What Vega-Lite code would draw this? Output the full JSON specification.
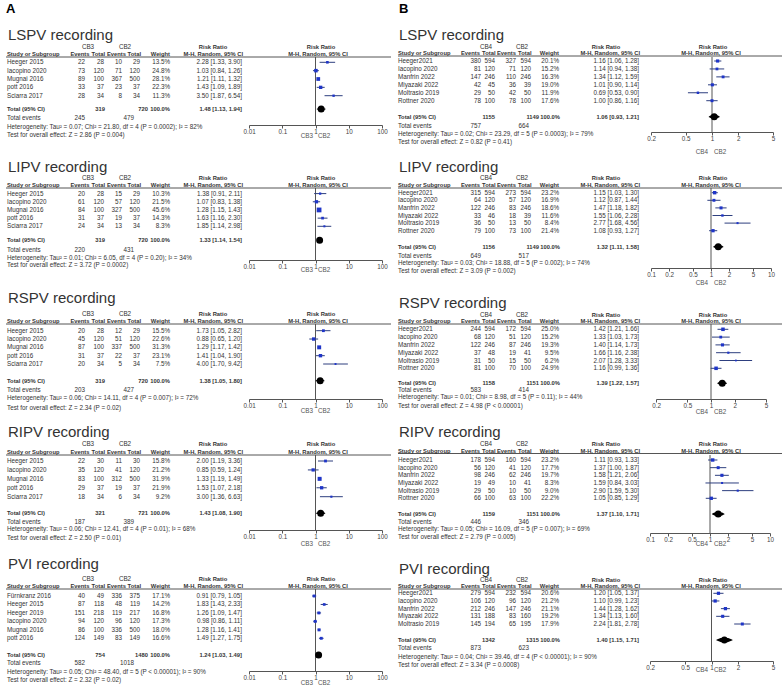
{
"$schema": "https://vega.github.io/schema/vega-lite/v6.json",
"background": "white",
"padding": {"left": 3, "top": 3, "right": 0, "bottom": 0},
"autosize": {"type": "pad"},
"columns": 2,
"spacing": {"row": 56, "column": 0},
"align": "each",
"bounds": "flush",
"resolve": {"scale": {"x": "independent", "y": "independent", "size": "independent"}, "axis": {"x": "independent"}},
"config": {
 "view": {"stroke": null},
 "text": {"font": "Liberation Sans", "fontSize": 6.3, "baseline": "middle", "color": "#333", "align": "left"},
 "axis": {"labelFont": "Liberation Sans", "labelFontSize": 6.3, "labelColor": "#444", "domainColor": "#555", "tickColor": "#555", "tickSize": 3, "labelPadding": 0, "grid": false, "labelFlush": false, "labelOverlap": false}
},
"datasets": {
 "A_LSPV": [
  {"study":"Heeger 2015","e1":22,"n1":28,"e2":10,"n2":29,"w":0.135,"rr":2.28,"lo":1.33,"hi":3.90,"ci":"2.28 [1.33, 3.90]"},
  {"study":"Iacopino 2020","e1":73,"n1":120,"e2":71,"n2":120,"w":0.248,"rr":1.03,"lo":0.84,"hi":1.26,"ci":"1.03 [0.84, 1.26]"},
  {"study":"Mugnai 2016","e1":89,"n1":100,"e2":367,"n2":500,"w":0.281,"rr":1.21,"lo":1.11,"hi":1.32,"ci":"1.21 [1.11, 1.32]"},
  {"study":"pott 2016","e1":33,"n1":37,"e2":23,"n2":37,"w":0.223,"rr":1.43,"lo":1.09,"hi":1.89,"ci":"1.43 [1.09, 1.89]"},
  {"study":"Sciarra 2017","e1":28,"n1":34,"e2":8,"n2":34,"w":0.113,"rr":3.50,"lo":1.87,"hi":6.54,"ci":"3.50 [1.87, 6.54]"}
 ],
 "A_LSPV_t": [{"est":1.48,"lo":1.13,"hi":1.94,"ci":"1.48 [1.13, 1.94]"}],
 "A_LIPV": [
  {"study":"Heeger 2015","e1":20,"n1":28,"e2":15,"n2":29,"w":0.103,"rr":1.38,"lo":0.91,"hi":2.11,"ci":"1.38 [0.91, 2.11]"},
  {"study":"Iacopino 2020","e1":61,"n1":120,"e2":57,"n2":120,"w":0.215,"rr":1.07,"lo":0.83,"hi":1.38,"ci":"1.07 [0.83, 1.38]"},
  {"study":"Mugnai 2016","e1":84,"n1":100,"e2":327,"n2":500,"w":0.456,"rr":1.28,"lo":1.15,"hi":1.43,"ci":"1.28 [1.15, 1.43]"},
  {"study":"pott 2016","e1":31,"n1":37,"e2":19,"n2":37,"w":0.143,"rr":1.63,"lo":1.16,"hi":2.30,"ci":"1.63 [1.16, 2.30]"},
  {"study":"Sciarra 2017","e1":24,"n1":34,"e2":13,"n2":34,"w":0.083,"rr":1.85,"lo":1.14,"hi":2.98,"ci":"1.85 [1.14, 2.98]"}
 ],
 "A_LIPV_t": [{"est":1.33,"lo":1.14,"hi":1.54,"ci":"1.33 [1.14, 1.54]"}],
 "A_RSPV": [
  {"study":"Heeger 2015","e1":20,"n1":28,"e2":12,"n2":29,"w":0.155,"rr":1.73,"lo":1.05,"hi":2.82,"ci":"1.73 [1.05, 2.82]"},
  {"study":"Iacopino 2020","e1":45,"n1":120,"e2":51,"n2":120,"w":0.226,"rr":0.88,"lo":0.65,"hi":1.20,"ci":"0.88 [0.65, 1.20]"},
  {"study":"Mugnai 2016","e1":87,"n1":100,"e2":337,"n2":500,"w":0.313,"rr":1.29,"lo":1.17,"hi":1.42,"ci":"1.29 [1.17, 1.42]"},
  {"study":"pott 2016","e1":31,"n1":37,"e2":22,"n2":37,"w":0.231,"rr":1.41,"lo":1.04,"hi":1.90,"ci":"1.41 [1.04, 1.90]"},
  {"study":"Sciarra 2017","e1":20,"n1":34,"e2":5,"n2":34,"w":0.075,"rr":4.00,"lo":1.70,"hi":9.42,"ci":"4.00 [1.70, 9.42]"}
 ],
 "A_RSPV_t": [{"est":1.38,"lo":1.05,"hi":1.80,"ci":"1.38 [1.05, 1.80]"}],
 "A_RIPV": [
  {"study":"Heeger 2015","e1":22,"n1":30,"e2":11,"n2":30,"w":0.158,"rr":2.00,"lo":1.19,"hi":3.36,"ci":"2.00 [1.19, 3.36]"},
  {"study":"Iacopino 2020","e1":35,"n1":120,"e2":41,"n2":120,"w":0.212,"rr":0.85,"lo":0.59,"hi":1.24,"ci":"0.85 [0.59, 1.24]"},
  {"study":"Mugnai 2016","e1":83,"n1":100,"e2":312,"n2":500,"w":0.319,"rr":1.33,"lo":1.19,"hi":1.49,"ci":"1.33 [1.19, 1.49]"},
  {"study":"pott 2016","e1":29,"n1":37,"e2":19,"n2":37,"w":0.219,"rr":1.53,"lo":1.07,"hi":2.18,"ci":"1.53 [1.07, 2.18]"},
  {"study":"Sciarra 2017","e1":18,"n1":34,"e2":6,"n2":34,"w":0.092,"rr":3.00,"lo":1.36,"hi":6.63,"ci":"3.00 [1.36, 6.63]"}
 ],
 "A_RIPV_t": [{"est":1.43,"lo":1.08,"hi":1.90,"ci":"1.43 [1.08, 1.90]"}],
 "A_PVI": [
  {"study":"Fürnkranz 2016","e1":40,"n1":49,"e2":336,"n2":375,"w":0.171,"rr":0.91,"lo":0.79,"hi":1.05,"ci":"0.91 [0.79, 1.05]"},
  {"study":"Heeger 2015","e1":87,"n1":118,"e2":48,"n2":119,"w":0.142,"rr":1.83,"lo":1.43,"hi":2.33,"ci":"1.83 [1.43, 2.33]"},
  {"study":"Heeger 2019","e1":151,"n1":218,"e2":119,"n2":217,"w":0.168,"rr":1.26,"lo":1.09,"hi":1.47,"ci":"1.26 [1.09, 1.47]"},
  {"study":"Iacopino 2020","e1":94,"n1":120,"e2":96,"n2":120,"w":0.173,"rr":0.98,"lo":0.86,"hi":1.11,"ci":"0.98 [0.86, 1.11]"},
  {"study":"Mugnai 2016","e1":86,"n1":100,"e2":336,"n2":500,"w":0.180,"rr":1.28,"lo":1.16,"hi":1.41,"ci":"1.28 [1.16, 1.41]"},
  {"study":"pott 2016","e1":124,"n1":149,"e2":83,"n2":149,"w":0.166,"rr":1.49,"lo":1.27,"hi":1.75,"ci":"1.49 [1.27, 1.75]"}
 ],
 "A_PVI_t": [{"est":1.24,"lo":1.03,"hi":1.49,"ci":"1.24 [1.03, 1.49]"}],
 "B_LSPV": [
  {"study":"Heeger2021","e1":380,"n1":594,"e2":327,"n2":594,"w":0.201,"rr":1.16,"lo":1.06,"hi":1.28,"ci":"1.16 [1.06, 1.28]"},
  {"study":"Iacopino 2020","e1":81,"n1":120,"e2":71,"n2":120,"w":0.152,"rr":1.14,"lo":0.94,"hi":1.38,"ci":"1.14 [0.94, 1.38]"},
  {"study":"Manfrin 2022","e1":147,"n1":246,"e2":110,"n2":246,"w":0.163,"rr":1.34,"lo":1.12,"hi":1.59,"ci":"1.34 [1.12, 1.59]"},
  {"study":"Miyazaki 2022","e1":42,"n1":45,"e2":36,"n2":39,"w":0.190,"rr":1.01,"lo":0.90,"hi":1.14,"ci":"1.01 [0.90, 1.14]"},
  {"study":"Moltrasio 2019","e1":29,"n1":50,"e2":42,"n2":50,"w":0.119,"rr":0.69,"lo":0.53,"hi":0.90,"ci":"0.69 [0.53, 0.90]"},
  {"study":"Rottner 2020","e1":78,"n1":100,"e2":78,"n2":100,"w":0.176,"rr":1.00,"lo":0.86,"hi":1.16,"ci":"1.00 [0.86, 1.16]"}
 ],
 "B_LSPV_t": [{"est":1.06,"lo":0.93,"hi":1.21,"ci":"1.06 [0.93, 1.21]"}],
 "B_LIPV": [
  {"study":"Heeger2021","e1":315,"n1":594,"e2":273,"n2":594,"w":0.232,"rr":1.15,"lo":1.03,"hi":1.30,"ci":"1.15 [1.03, 1.30]"},
  {"study":"Iacopino 2020","e1":64,"n1":120,"e2":57,"n2":120,"w":0.169,"rr":1.12,"lo":0.87,"hi":1.44,"ci":"1.12 [0.87, 1.44]"},
  {"study":"Manfrin 2022","e1":122,"n1":246,"e2":83,"n2":246,"w":0.186,"rr":1.47,"lo":1.18,"hi":1.82,"ci":"1.47 [1.18, 1.82]"},
  {"study":"Miyazaki 2022","e1":33,"n1":46,"e2":18,"n2":39,"w":0.116,"rr":1.55,"lo":1.06,"hi":2.28,"ci":"1.55 [1.06, 2.28]"},
  {"study":"Moltrasio 2019","e1":36,"n1":50,"e2":13,"n2":50,"w":0.084,"rr":2.77,"lo":1.68,"hi":4.56,"ci":"2.77 [1.68, 4.56]"},
  {"study":"Rottner 2020","e1":79,"n1":100,"e2":73,"n2":100,"w":0.214,"rr":1.08,"lo":0.93,"hi":1.27,"ci":"1.08 [0.93, 1.27]"}
 ],
 "B_LIPV_t": [{"est":1.32,"lo":1.11,"hi":1.58,"ci":"1.32 [1.11, 1.58]"}],
 "B_RSPV": [
  {"study":"Heeger2021","e1":244,"n1":594,"e2":172,"n2":594,"w":0.250,"rr":1.42,"lo":1.21,"hi":1.66,"ci":"1.42 [1.21, 1.66]"},
  {"study":"Iacopino 2020","e1":68,"n1":120,"e2":51,"n2":120,"w":0.152,"rr":1.33,"lo":1.03,"hi":1.73,"ci":"1.33 [1.03, 1.73]"},
  {"study":"Manfrin 2022","e1":122,"n1":246,"e2":87,"n2":246,"w":0.193,"rr":1.40,"lo":1.14,"hi":1.73,"ci":"1.40 [1.14, 1.73]"},
  {"study":"Miyazaki 2022","e1":37,"n1":48,"e2":19,"n2":41,"w":0.095,"rr":1.66,"lo":1.16,"hi":2.38,"ci":"1.66 [1.16, 2.38]"},
  {"study":"Moltrasio 2019","e1":31,"n1":50,"e2":15,"n2":50,"w":0.062,"rr":2.07,"lo":1.28,"hi":3.33,"ci":"2.07 [1.28, 3.33]"},
  {"study":"Rottner 2020","e1":81,"n1":100,"e2":70,"n2":100,"w":0.249,"rr":1.16,"lo":0.99,"hi":1.36,"ci":"1.16 [0.99, 1.36]"}
 ],
 "B_RSPV_t": [{"est":1.39,"lo":1.22,"hi":1.57,"ci":"1.39 [1.22, 1.57]"}],
 "B_RIPV": [
  {"study":"Heeger2021","e1":178,"n1":594,"e2":160,"n2":594,"w":0.232,"rr":1.11,"lo":0.93,"hi":1.33,"ci":"1.11 [0.93, 1.33]"},
  {"study":"Iacopino 2020","e1":56,"n1":120,"e2":41,"n2":120,"w":0.177,"rr":1.37,"lo":1.00,"hi":1.87,"ci":"1.37 [1.00, 1.87]"},
  {"study":"Manfrin 2022","e1":98,"n1":246,"e2":62,"n2":246,"w":0.197,"rr":1.58,"lo":1.21,"hi":2.06,"ci":"1.58 [1.21, 2.06]"},
  {"study":"Miyazaki 2022","e1":19,"n1":49,"e2":10,"n2":41,"w":0.083,"rr":1.59,"lo":0.84,"hi":3.03,"ci":"1.59 [0.84, 3.03]"},
  {"study":"Moltrasio 2019","e1":29,"n1":50,"e2":10,"n2":50,"w":0.090,"rr":2.90,"lo":1.59,"hi":5.30,"ci":"2.90 [1.59, 5.30]"},
  {"study":"Rottner 2020","e1":66,"n1":100,"e2":63,"n2":100,"w":0.222,"rr":1.05,"lo":0.85,"hi":1.29,"ci":"1.05 [0.85, 1.29]"}
 ],
 "B_RIPV_t": [{"est":1.37,"lo":1.10,"hi":1.71,"ci":"1.37 [1.10, 1.71]"}],
 "B_PVI": [
  {"study":"Heeger2021","e1":279,"n1":594,"e2":232,"n2":594,"w":0.206,"rr":1.20,"lo":1.05,"hi":1.37,"ci":"1.20 [1.05, 1.37]"},
  {"study":"Iacopino 2020","e1":106,"n1":120,"e2":96,"n2":120,"w":0.212,"rr":1.10,"lo":0.99,"hi":1.23,"ci":"1.10 [0.99, 1.23]"},
  {"study":"Manfrin 2022","e1":212,"n1":246,"e2":147,"n2":246,"w":0.211,"rr":1.44,"lo":1.28,"hi":1.62,"ci":"1.44 [1.28, 1.62]"},
  {"study":"Miyazaki 2022","e1":131,"n1":188,"e2":83,"n2":160,"w":0.192,"rr":1.34,"lo":1.13,"hi":1.60,"ci":"1.34 [1.13, 1.60]"},
  {"study":"Moltrasio 2019","e1":145,"n1":194,"e2":65,"n2":195,"w":0.179,"rr":2.24,"lo":1.81,"hi":2.78,"ci":"2.24 [1.81, 2.78]"}
 ],
 "B_PVI_t": [{"est":1.40,"lo":1.15,"hi":1.71,"ci":"1.40 [1.15, 1.71]"}]
},
"concat": [
{"width":390,"height":68,"data":{"name":"A_LSPV"},"layer":[
 {"data":{"values":[{}]},"mark":{"type":"rule","color":"#555"},"encoding":{"x":{"datum":1,"type":"quantitative","title":null}}},
 {"encoding":{"y":{"field":"study","type":"nominal","sort":null,"axis":null,"scale":{"type":"point","padding":0,"range":[5.3,38.7]}}},"layer":[
  {"mark":{"type":"rule","color":"#2e3f7f"},"encoding":{"x":{"field":"lo","type":"quantitative","title":null,"scale":{"type":"log","nice":false,"domain":[0.01,100],"range":[246,379]},"axis":{"values":[0.01,0.1,1,10,100],"format":"~g"}},"x2":{"field":"hi"}}},
  {"mark":{"type":"square","color":"#1f35c8","opacity":1},"encoding":{"x":{"field":"rr","type":"quantitative","title":null},"size":{"field":"w","type":"quantitative","scale":{"domain":[0,0.5],"range":[0,25]},"legend":null}}},
  {"mark":"text","encoding":{"x":{"value":4},"text":{"field":"study"}}},
  {"mark":{"type":"text","align":"right"},"encoding":{"x":{"value":82},"text":{"field":"e1","type":"quantitative","format":"d"}}},
  {"mark":{"type":"text","align":"right"},"encoding":{"x":{"value":101},"text":{"field":"n1","type":"quantitative","format":"d"}}},
  {"mark":{"type":"text","align":"right"},"encoding":{"x":{"value":119},"text":{"field":"e2","type":"quantitative","format":"d"}}},
  {"mark":{"type":"text","align":"right"},"encoding":{"x":{"value":137},"text":{"field":"n2","type":"quantitative","format":"d"}}},
  {"mark":{"type":"text","align":"right"},"encoding":{"x":{"value":167},"text":{"field":"w","type":"quantitative","format":".1%"}}},
  {"mark":{"type":"text","align":"right"},"encoding":{"x":{"value":239},"text":{"field":"ci"}}}
 ]},
 {"data":{"name":"A_LSPV_t"},"layer":[
  {"transform":[{"fold":["lo","est","hi"],"as":["key","val"]}],"mark":{"type":"trail","color":"#000"},"encoding":{"x":{"field":"val","type":"quantitative","title":null},"y":{"value":52},"size":{"condition":{"test":"datum.key === 'est'","value":7},"value":0}}},
  {"mark":{"type":"text","align":"right","fontWeight":"bold","fontSize":5.8},"encoding":{"x":{"value":239},"y":{"value":52},"text":{"field":"ci"}}}
 ]},
 {"transform":[{"aggregate":[{"op":"sum","field":"e1","as":"e1"},{"op":"sum","field":"n1","as":"n1"},{"op":"sum","field":"e2","as":"e2"},{"op":"sum","field":"n2","as":"n2"}]}],"layer":[
  {"mark":{"type":"text","align":"right","fontWeight":"bold","fontSize":5.8},"encoding":{"x":{"value":102},"y":{"value":52},"text":{"field":"n1","type":"quantitative","format":"d"}}},
  {"mark":{"type":"text","align":"right","fontWeight":"bold","fontSize":5.8},"encoding":{"x":{"value":145},"y":{"value":52},"text":{"field":"n2","type":"quantitative","format":"d"}}},
  {"mark":{"type":"text","align":"right"},"encoding":{"x":{"value":82},"y":{"value":61.3},"text":{"field":"e1","type":"quantitative","format":"d"}}},
  {"mark":{"type":"text","align":"right"},"encoding":{"x":{"value":131},"y":{"value":61.3},"text":{"field":"e2","type":"quantitative","format":"d"}}}
 ]},
 {"data":{"values":[{}]},"layer":[
  {"mark":{"type":"rule","color":"#555"},"encoding":{"x":{"value":3},"x2":{"value":388},"y":{"value":0}}},
  {"mark":{"type":"text","text":"A","fontSize":13,"fontWeight":"bold","baseline":"alphabetic","color":"#000"},"encoding":{"x":{"value":3},"y":{"value":-44}}},
  {"mark":{"type":"text","text":"LSPV recording","fontSize":15,"baseline":"alphabetic","color":"#333"},"encoding":{"x":{"value":5},"y":{"value":-17}}},
  {"mark":{"type":"text","align":"center","text":"CB3"},"encoding":{"x":{"value":85},"y":{"value":-10}}},
  {"mark":{"type":"text","align":"center","text":"CB2"},"encoding":{"x":{"value":122},"y":{"value":-10}}},
  {"mark":{"type":"text","align":"center","fontWeight":"bold","fontSize":5.8,"text":"Risk Ratio"},"encoding":{"x":{"value":210},"y":{"value":-10}}},
  {"mark":{"type":"text","align":"center","fontWeight":"bold","fontSize":5.8,"text":"Risk Ratio"},"encoding":{"x":{"value":318},"y":{"value":-10}}},
  {"mark":{"type":"text","fontWeight":"bold","fontSize":5.8,"text":"Study or Subgroup"},"encoding":{"x":{"value":4},"y":{"value":-3.2}}},
  {"mark":{"type":"text","align":"right","fontWeight":"bold","fontSize":5.8,"text":"Events"},"encoding":{"x":{"value":86.5},"y":{"value":-3.2}}},
  {"mark":{"type":"text","align":"right","fontWeight":"bold","fontSize":5.8,"text":"Total"},"encoding":{"x":{"value":102},"y":{"value":-3.2}}},
  {"mark":{"type":"text","align":"right","fontWeight":"bold","fontSize":5.8,"text":"Events"},"encoding":{"x":{"value":123},"y":{"value":-3.2}}},
  {"mark":{"type":"text","align":"right","fontWeight":"bold","fontSize":5.8,"text":"Total"},"encoding":{"x":{"value":138},"y":{"value":-3.2}}},
  {"mark":{"type":"text","align":"right","fontWeight":"bold","fontSize":5.8,"text":"Weight"},"encoding":{"x":{"value":167},"y":{"value":-3.2}}},
  {"mark":{"type":"text","align":"right","fontWeight":"bold","fontSize":5.8,"text":"M-H, Random, 95% CI"},"encoding":{"x":{"value":240},"y":{"value":-3.2}}},
  {"mark":{"type":"text","align":"center","fontWeight":"bold","fontSize":5.8,"text":"M-H, Random, 95% CI"},"encoding":{"x":{"value":315},"y":{"value":-3.2}}},
  {"mark":{"type":"text","fontWeight":"bold","fontSize":5.8,"text":"Total (95% CI)"},"encoding":{"x":{"value":4},"y":{"value":52}}},
  {"mark":{"type":"text","align":"right","fontWeight":"bold","fontSize":5.8,"text":"100.0%"},"encoding":{"x":{"value":167},"y":{"value":52}}},
  {"mark":{"type":"text","text":"Total events"},"encoding":{"x":{"value":4},"y":{"value":61.3}}},
  {"mark":{"type":"text","text":"Heterogeneity: Tau² = 0.07; Chi² = 21.80, df = 4 (P = 0.0002); I² = 82%"},"encoding":{"x":{"value":4},"y":{"value":69.7}}},
  {"mark":{"type":"text","text":"Test for overall effect: Z = 2.86 (P = 0.004)"},"encoding":{"x":{"value":4},"y":{"value":78}}},
  {"mark":{"type":"text","align":"right","color":"#555","text":"CB3"},"encoding":{"x":{"value":310},"y":{"value":79}}},
  {"mark":{"type":"text","color":"#555","text":"CB2"},"encoding":{"x":{"value":315},"y":{"value":79}}}
 ]}
]},
{"width":390,"height":75,"data":{"name":"B_LSPV"},"layer":[
 {"data":{"values":[{}]},"mark":{"type":"rule","color":"#555"},"encoding":{"x":{"datum":1,"type":"quantitative","title":null}}},
 {"encoding":{"y":{"field":"study","type":"nominal","sort":null,"axis":null,"scale":{"type":"point","padding":0,"range":[4,43.7]}}},"layer":[
  {"mark":{"type":"rule","color":"#2e3f7f"},"encoding":{"x":{"field":"lo","type":"quantitative","title":null,"scale":{"type":"log","nice":false,"domain":[0.2,5],"range":[258,380]},"axis":{"values":[0.2,0.5,1,2,5],"format":"~g"}},"x2":{"field":"hi"}}},
  {"mark":{"type":"square","color":"#1f35c8","opacity":1},"encoding":{"x":{"field":"rr","type":"quantitative","title":null},"size":{"field":"w","type":"quantitative","scale":{"domain":[0,0.5],"range":[0,25]},"legend":null}}},
  {"mark":"text","encoding":{"x":{"value":5},"text":{"field":"study"}}},
  {"mark":{"type":"text","align":"right"},"encoding":{"x":{"value":88},"text":{"field":"e1","type":"quantitative","format":"d"}}},
  {"mark":{"type":"text","align":"right"},"encoding":{"x":{"value":102},"text":{"field":"n1","type":"quantitative","format":"d"}}},
  {"mark":{"type":"text","align":"right"},"encoding":{"x":{"value":123},"text":{"field":"e2","type":"quantitative","format":"d"}}},
  {"mark":{"type":"text","align":"right"},"encoding":{"x":{"value":138},"text":{"field":"n2","type":"quantitative","format":"d"}}},
  {"mark":{"type":"text","align":"right"},"encoding":{"x":{"value":166},"text":{"field":"w","type":"quantitative","format":".1%"}}},
  {"mark":{"type":"text","align":"right"},"encoding":{"x":{"value":246},"text":{"field":"ci"}}}
 ]},
 {"data":{"name":"B_LSPV_t"},"layer":[
  {"transform":[{"fold":["lo","est","hi"],"as":["key","val"]}],"mark":{"type":"trail","color":"#000"},"encoding":{"x":{"field":"val","type":"quantitative","title":null},"y":{"value":59.7},"size":{"condition":{"test":"datum.key === 'est'","value":7},"value":0}}},
  {"mark":{"type":"text","align":"right","fontWeight":"bold","fontSize":5.8},"encoding":{"x":{"value":246},"y":{"value":59.7},"text":{"field":"ci"}}}
 ]},
 {"transform":[{"aggregate":[{"op":"sum","field":"e1","as":"e1"},{"op":"sum","field":"n1","as":"n1"},{"op":"sum","field":"e2","as":"e2"},{"op":"sum","field":"n2","as":"n2"}]}],"layer":[
  {"mark":{"type":"text","align":"right","fontWeight":"bold","fontSize":5.8},"encoding":{"x":{"value":102},"y":{"value":59.7},"text":{"field":"n1","type":"quantitative","format":"d"}}},
  {"mark":{"type":"text","align":"right","fontWeight":"bold","fontSize":5.8},"encoding":{"x":{"value":146},"y":{"value":59.7},"text":{"field":"n2","type":"quantitative","format":"d"}}},
  {"mark":{"type":"text","align":"right"},"encoding":{"x":{"value":88},"y":{"value":69},"text":{"field":"e1","type":"quantitative","format":"d"}}},
  {"mark":{"type":"text","align":"right"},"encoding":{"x":{"value":136},"y":{"value":69},"text":{"field":"e2","type":"quantitative","format":"d"}}}
 ]},
 {"data":{"values":[{}]},"layer":[
  {"mark":{"type":"rule","color":"#555"},"encoding":{"x":{"value":5},"x2":{"value":390},"y":{"value":-1}}},
  {"mark":{"type":"text","text":"B","fontSize":13,"fontWeight":"bold","baseline":"alphabetic","color":"#000"},"encoding":{"x":{"value":6},"y":{"value":-44}}},
  {"mark":{"type":"text","text":"LSPV recording","fontSize":15,"baseline":"alphabetic","color":"#333"},"encoding":{"x":{"value":6},"y":{"value":-17}}},
  {"mark":{"type":"text","align":"center","text":"CB4"},"encoding":{"x":{"value":93},"y":{"value":-10}}},
  {"mark":{"type":"text","align":"center","text":"CB2"},"encoding":{"x":{"value":129},"y":{"value":-10}}},
  {"mark":{"type":"text","align":"center","fontWeight":"bold","fontSize":5.8,"text":"Risk Ratio"},"encoding":{"x":{"value":213},"y":{"value":-10}}},
  {"mark":{"type":"text","align":"center","fontWeight":"bold","fontSize":5.8,"text":"Risk Ratio"},"encoding":{"x":{"value":320},"y":{"value":-10}}},
  {"mark":{"type":"text","fontWeight":"bold","fontSize":5.8,"text":"Study or Subgroup"},"encoding":{"x":{"value":5},"y":{"value":-3.7}}},
  {"mark":{"type":"text","align":"right","fontWeight":"bold","fontSize":5.8,"text":"Events"},"encoding":{"x":{"value":87},"y":{"value":-3.7}}},
  {"mark":{"type":"text","align":"right","fontWeight":"bold","fontSize":5.8,"text":"Total"},"encoding":{"x":{"value":102.5},"y":{"value":-3.7}}},
  {"mark":{"type":"text","align":"right","fontWeight":"bold","fontSize":5.8,"text":"Events"},"encoding":{"x":{"value":123},"y":{"value":-3.7}}},
  {"mark":{"type":"text","align":"right","fontWeight":"bold","fontSize":5.8,"text":"Total"},"encoding":{"x":{"value":138.5},"y":{"value":-3.7}}},
  {"mark":{"type":"text","align":"right","fontWeight":"bold","fontSize":5.8,"text":"Weight"},"encoding":{"x":{"value":166},"y":{"value":-3.7}}},
  {"mark":{"type":"text","align":"right","fontWeight":"bold","fontSize":5.8,"text":"M-H, Random, 95% CI"},"encoding":{"x":{"value":247},"y":{"value":-3.7}}},
  {"mark":{"type":"text","align":"center","fontWeight":"bold","fontSize":5.8,"text":"M-H, Random, 95% CI"},"encoding":{"x":{"value":318},"y":{"value":-3.7}}},
  {"mark":{"type":"text","fontWeight":"bold","fontSize":5.8,"text":"Total (95% CI)"},"encoding":{"x":{"value":5},"y":{"value":59.7}}},
  {"mark":{"type":"text","align":"right","fontWeight":"bold","fontSize":5.8,"text":"100.0%"},"encoding":{"x":{"value":167},"y":{"value":59.7}}},
  {"mark":{"type":"text","text":"Total events"},"encoding":{"x":{"value":5},"y":{"value":69}}},
  {"mark":{"type":"text","text":"Heterogeneity: Tau² = 0.02; Chi² = 23.29, df = 5 (P = 0.0003); I² = 79%"},"encoding":{"x":{"value":5},"y":{"value":77.3}}},
  {"mark":{"type":"text","text":"Test for overall effect: Z = 0.82 (P = 0.41)"},"encoding":{"x":{"value":5},"y":{"value":84.7}}},
  {"mark":{"type":"text","align":"right","color":"#555","text":"CB4"},"encoding":{"x":{"value":315},"y":{"value":95}}},
  {"mark":{"type":"text","color":"#555","text":"CB2"},"encoding":{"x":{"value":321},"y":{"value":95}}}
 ]}
]},
{"width":390,"height":72,"data":{"name":"A_LIPV"},"layer":[
 {"data":{"values":[{}]},"mark":{"type":"rule","color":"#555"},"encoding":{"x":{"datum":1,"type":"quantitative","title":null}}},
 {"encoding":{"y":{"field":"study","type":"nominal","sort":null,"axis":null,"scale":{"type":"point","padding":0,"range":[5.6,38.3]}}},"layer":[
  {"mark":{"type":"rule","color":"#2e3f7f"},"encoding":{"x":{"field":"lo","type":"quantitative","title":null,"scale":{"type":"log","nice":false,"domain":[0.01,100],"range":[246,379]},"axis":{"values":[0.01,0.1,1,10,100],"format":"~g"}},"x2":{"field":"hi"}}},
  {"mark":{"type":"square","color":"#1f35c8","opacity":1},"encoding":{"x":{"field":"rr","type":"quantitative","title":null},"size":{"field":"w","type":"quantitative","scale":{"domain":[0,0.5],"range":[0,25]},"legend":null}}},
  {"mark":"text","encoding":{"x":{"value":4},"text":{"field":"study"}}},
  {"mark":{"type":"text","align":"right"},"encoding":{"x":{"value":82},"text":{"field":"e1","type":"quantitative","format":"d"}}},
  {"mark":{"type":"text","align":"right"},"encoding":{"x":{"value":101},"text":{"field":"n1","type":"quantitative","format":"d"}}},
  {"mark":{"type":"text","align":"right"},"encoding":{"x":{"value":119},"text":{"field":"e2","type":"quantitative","format":"d"}}},
  {"mark":{"type":"text","align":"right"},"encoding":{"x":{"value":137},"text":{"field":"n2","type":"quantitative","format":"d"}}},
  {"mark":{"type":"text","align":"right"},"encoding":{"x":{"value":167},"text":{"field":"w","type":"quantitative","format":".1%"}}},
  {"mark":{"type":"text","align":"right"},"encoding":{"x":{"value":239},"text":{"field":"ci"}}}
 ]},
 {"data":{"name":"A_LIPV_t"},"layer":[
  {"transform":[{"fold":["lo","est","hi"],"as":["key","val"]}],"mark":{"type":"trail","color":"#000"},"encoding":{"x":{"field":"val","type":"quantitative","title":null},"y":{"value":52.3},"size":{"condition":{"test":"datum.key === 'est'","value":7},"value":0}}},
  {"mark":{"type":"text","align":"right","fontWeight":"bold","fontSize":5.8},"encoding":{"x":{"value":239},"y":{"value":52.3},"text":{"field":"ci"}}}
 ]},
 {"transform":[{"aggregate":[{"op":"sum","field":"e1","as":"e1"},{"op":"sum","field":"n1","as":"n1"},{"op":"sum","field":"e2","as":"e2"},{"op":"sum","field":"n2","as":"n2"}]}],"layer":[
  {"mark":{"type":"text","align":"right","fontWeight":"bold","fontSize":5.8},"encoding":{"x":{"value":102},"y":{"value":52.3},"text":{"field":"n1","type":"quantitative","format":"d"}}},
  {"mark":{"type":"text","align":"right","fontWeight":"bold","fontSize":5.8},"encoding":{"x":{"value":145},"y":{"value":52.3},"text":{"field":"n2","type":"quantitative","format":"d"}}},
  {"mark":{"type":"text","align":"right"},"encoding":{"x":{"value":82},"y":{"value":61.6},"text":{"field":"e1","type":"quantitative","format":"d"}}},
  {"mark":{"type":"text","align":"right"},"encoding":{"x":{"value":131},"y":{"value":61.6},"text":{"field":"e2","type":"quantitative","format":"d"}}}
 ]},
 {"data":{"values":[{}]},"layer":[
  {"mark":{"type":"rule","color":"#555"},"encoding":{"x":{"value":3},"x2":{"value":388},"y":{"value":0}}},
  {"mark":{"type":"text","text":"LIPV recording","fontSize":15,"baseline":"alphabetic","color":"#333"},"encoding":{"x":{"value":5},"y":{"value":-16.4}}},
  {"mark":{"type":"text","align":"center","text":"CB3"},"encoding":{"x":{"value":85},"y":{"value":-10}}},
  {"mark":{"type":"text","align":"center","text":"CB2"},"encoding":{"x":{"value":122},"y":{"value":-10}}},
  {"mark":{"type":"text","align":"center","fontWeight":"bold","fontSize":5.8,"text":"Risk Ratio"},"encoding":{"x":{"value":210},"y":{"value":-10}}},
  {"mark":{"type":"text","align":"center","fontWeight":"bold","fontSize":5.8,"text":"Risk Ratio"},"encoding":{"x":{"value":318},"y":{"value":-10}}},
  {"mark":{"type":"text","fontWeight":"bold","fontSize":5.8,"text":"Study or Subgroup"},"encoding":{"x":{"value":4},"y":{"value":-3.2}}},
  {"mark":{"type":"text","align":"right","fontWeight":"bold","fontSize":5.8,"text":"Events"},"encoding":{"x":{"value":86.5},"y":{"value":-3.2}}},
  {"mark":{"type":"text","align":"right","fontWeight":"bold","fontSize":5.8,"text":"Total"},"encoding":{"x":{"value":102},"y":{"value":-3.2}}},
  {"mark":{"type":"text","align":"right","fontWeight":"bold","fontSize":5.8,"text":"Events"},"encoding":{"x":{"value":123},"y":{"value":-3.2}}},
  {"mark":{"type":"text","align":"right","fontWeight":"bold","fontSize":5.8,"text":"Total"},"encoding":{"x":{"value":138},"y":{"value":-3.2}}},
  {"mark":{"type":"text","align":"right","fontWeight":"bold","fontSize":5.8,"text":"Weight"},"encoding":{"x":{"value":167},"y":{"value":-3.2}}},
  {"mark":{"type":"text","align":"right","fontWeight":"bold","fontSize":5.8,"text":"M-H, Random, 95% CI"},"encoding":{"x":{"value":240},"y":{"value":-3.2}}},
  {"mark":{"type":"text","align":"center","fontWeight":"bold","fontSize":5.8,"text":"M-H, Random, 95% CI"},"encoding":{"x":{"value":315},"y":{"value":-3.2}}},
  {"mark":{"type":"text","fontWeight":"bold","fontSize":5.8,"text":"Total (95% CI)"},"encoding":{"x":{"value":4},"y":{"value":52.3}}},
  {"mark":{"type":"text","align":"right","fontWeight":"bold","fontSize":5.8,"text":"100.0%"},"encoding":{"x":{"value":167},"y":{"value":52.3}}},
  {"mark":{"type":"text","text":"Total events"},"encoding":{"x":{"value":4},"y":{"value":61.6}}},
  {"mark":{"type":"text","text":"Heterogeneity: Tau² = 0.01; Chi² = 6.05, df = 4 (P = 0.20); I² = 34%"},"encoding":{"x":{"value":4},"y":{"value":69.6}}},
  {"mark":{"type":"text","text":"Test for overall effect: Z = 3.72 (P = 0.0002)"},"encoding":{"x":{"value":4},"y":{"value":77.3}}},
  {"mark":{"type":"text","align":"right","color":"#555","text":"CB3"},"encoding":{"x":{"value":310},"y":{"value":82}}},
  {"mark":{"type":"text","color":"#555","text":"CB2"},"encoding":{"x":{"value":315},"y":{"value":82}}}
 ]}
]},
{"width":390,"height":80,"data":{"name":"B_LIPV"},"layer":[
 {"data":{"values":[{}]},"mark":{"type":"rule","color":"#555"},"encoding":{"x":{"datum":1,"type":"quantitative","title":null}}},
 {"encoding":{"y":{"field":"study","type":"nominal","sort":null,"axis":null,"scale":{"type":"point","padding":0,"range":[4.7,42.7]}}},"layer":[
  {"mark":{"type":"rule","color":"#2e3f7f"},"encoding":{"x":{"field":"lo","type":"quantitative","title":null,"scale":{"type":"log","nice":false,"domain":[0.1,10],"range":[258,378]},"axis":{"values":[0.1,0.2,0.5,1,2,5,10],"format":"~g"}},"x2":{"field":"hi"}}},
  {"mark":{"type":"square","color":"#1f35c8","opacity":1},"encoding":{"x":{"field":"rr","type":"quantitative","title":null},"size":{"field":"w","type":"quantitative","scale":{"domain":[0,0.5],"range":[0,25]},"legend":null}}},
  {"mark":"text","encoding":{"x":{"value":5},"text":{"field":"study"}}},
  {"mark":{"type":"text","align":"right"},"encoding":{"x":{"value":88},"text":{"field":"e1","type":"quantitative","format":"d"}}},
  {"mark":{"type":"text","align":"right"},"encoding":{"x":{"value":102},"text":{"field":"n1","type":"quantitative","format":"d"}}},
  {"mark":{"type":"text","align":"right"},"encoding":{"x":{"value":123},"text":{"field":"e2","type":"quantitative","format":"d"}}},
  {"mark":{"type":"text","align":"right"},"encoding":{"x":{"value":138},"text":{"field":"n2","type":"quantitative","format":"d"}}},
  {"mark":{"type":"text","align":"right"},"encoding":{"x":{"value":166},"text":{"field":"w","type":"quantitative","format":".1%"}}},
  {"mark":{"type":"text","align":"right"},"encoding":{"x":{"value":246},"text":{"field":"ci"}}}
 ]},
 {"data":{"name":"B_LIPV_t"},"layer":[
  {"transform":[{"fold":["lo","est","hi"],"as":["key","val"]}],"mark":{"type":"trail","color":"#000"},"encoding":{"x":{"field":"val","type":"quantitative","title":null},"y":{"value":58.7},"size":{"condition":{"test":"datum.key === 'est'","value":7},"value":0}}},
  {"mark":{"type":"text","align":"right","fontWeight":"bold","fontSize":5.8},"encoding":{"x":{"value":246},"y":{"value":58.7},"text":{"field":"ci"}}}
 ]},
 {"transform":[{"aggregate":[{"op":"sum","field":"e1","as":"e1"},{"op":"sum","field":"n1","as":"n1"},{"op":"sum","field":"e2","as":"e2"},{"op":"sum","field":"n2","as":"n2"}]}],"layer":[
  {"mark":{"type":"text","align":"right","fontWeight":"bold","fontSize":5.8},"encoding":{"x":{"value":102},"y":{"value":58.7},"text":{"field":"n1","type":"quantitative","format":"d"}}},
  {"mark":{"type":"text","align":"right","fontWeight":"bold","fontSize":5.8},"encoding":{"x":{"value":146},"y":{"value":58.7},"text":{"field":"n2","type":"quantitative","format":"d"}}},
  {"mark":{"type":"text","align":"right"},"encoding":{"x":{"value":88},"y":{"value":67.7},"text":{"field":"e1","type":"quantitative","format":"d"}}},
  {"mark":{"type":"text","align":"right"},"encoding":{"x":{"value":136},"y":{"value":67.7},"text":{"field":"e2","type":"quantitative","format":"d"}}}
 ]},
 {"data":{"values":[{}]},"layer":[
  {"mark":{"type":"rule","color":"#555"},"encoding":{"x":{"value":5},"x2":{"value":390},"y":{"value":0}}},
  {"mark":{"type":"text","text":"LIPV recording","fontSize":15,"baseline":"alphabetic","color":"#333"},"encoding":{"x":{"value":6},"y":{"value":-16.4}}},
  {"mark":{"type":"text","align":"center","text":"CB4"},"encoding":{"x":{"value":93},"y":{"value":-10}}},
  {"mark":{"type":"text","align":"center","text":"CB2"},"encoding":{"x":{"value":129},"y":{"value":-10}}},
  {"mark":{"type":"text","align":"center","fontWeight":"bold","fontSize":5.8,"text":"Risk Ratio"},"encoding":{"x":{"value":213},"y":{"value":-10}}},
  {"mark":{"type":"text","align":"center","fontWeight":"bold","fontSize":5.8,"text":"Risk Ratio"},"encoding":{"x":{"value":320},"y":{"value":-10}}},
  {"mark":{"type":"text","fontWeight":"bold","fontSize":5.8,"text":"Study or Subgroup"},"encoding":{"x":{"value":5},"y":{"value":-3.5}}},
  {"mark":{"type":"text","align":"right","fontWeight":"bold","fontSize":5.8,"text":"Events"},"encoding":{"x":{"value":87},"y":{"value":-3.5}}},
  {"mark":{"type":"text","align":"right","fontWeight":"bold","fontSize":5.8,"text":"Total"},"encoding":{"x":{"value":102.5},"y":{"value":-3.5}}},
  {"mark":{"type":"text","align":"right","fontWeight":"bold","fontSize":5.8,"text":"Events"},"encoding":{"x":{"value":123},"y":{"value":-3.5}}},
  {"mark":{"type":"text","align":"right","fontWeight":"bold","fontSize":5.8,"text":"Total"},"encoding":{"x":{"value":138.5},"y":{"value":-3.5}}},
  {"mark":{"type":"text","align":"right","fontWeight":"bold","fontSize":5.8,"text":"Weight"},"encoding":{"x":{"value":166},"y":{"value":-3.5}}},
  {"mark":{"type":"text","align":"right","fontWeight":"bold","fontSize":5.8,"text":"M-H, Random, 95% CI"},"encoding":{"x":{"value":247},"y":{"value":-3.5}}},
  {"mark":{"type":"text","align":"center","fontWeight":"bold","fontSize":5.8,"text":"M-H, Random, 95% CI"},"encoding":{"x":{"value":318},"y":{"value":-3.5}}},
  {"mark":{"type":"text","fontWeight":"bold","fontSize":5.8,"text":"Total (95% CI)"},"encoding":{"x":{"value":5},"y":{"value":58.7}}},
  {"mark":{"type":"text","align":"right","fontWeight":"bold","fontSize":5.8,"text":"100.0%"},"encoding":{"x":{"value":167},"y":{"value":58.7}}},
  {"mark":{"type":"text","text":"Total events"},"encoding":{"x":{"value":5},"y":{"value":67.7}}},
  {"mark":{"type":"text","text":"Heterogeneity: Tau² = 0.03; Chi² = 18.88, df = 5 (P = 0.002); I² = 74%"},"encoding":{"x":{"value":5},"y":{"value":75.3}}},
  {"mark":{"type":"text","text":"Test for overall effect: Z = 3.09 (P = 0.002)"},"encoding":{"x":{"value":5},"y":{"value":83}}},
  {"mark":{"type":"text","align":"right","color":"#555","text":"CB4"},"encoding":{"x":{"value":315},"y":{"value":94.7}}},
  {"mark":{"type":"text","color":"#555","text":"CB2"},"encoding":{"x":{"value":321},"y":{"value":94.7}}}
 ]}
]},
{"width":390,"height":75,"data":{"name":"A_RSPV"},"layer":[
 {"data":{"values":[{}]},"mark":{"type":"rule","color":"#555"},"encoding":{"x":{"datum":1,"type":"quantitative","title":null}}},
 {"encoding":{"y":{"field":"study","type":"nominal","sort":null,"axis":null,"scale":{"type":"point","padding":0,"range":[6.7,40]}}},"layer":[
  {"mark":{"type":"rule","color":"#2e3f7f"},"encoding":{"x":{"field":"lo","type":"quantitative","title":null,"scale":{"type":"log","nice":false,"domain":[0.01,100],"range":[246,379]},"axis":{"values":[0.01,0.1,1,10,100],"format":"~g"}},"x2":{"field":"hi"}}},
  {"mark":{"type":"square","color":"#1f35c8","opacity":1},"encoding":{"x":{"field":"rr","type":"quantitative","title":null},"size":{"field":"w","type":"quantitative","scale":{"domain":[0,0.5],"range":[0,25]},"legend":null}}},
  {"mark":"text","encoding":{"x":{"value":4},"text":{"field":"study"}}},
  {"mark":{"type":"text","align":"right"},"encoding":{"x":{"value":82},"text":{"field":"e1","type":"quantitative","format":"d"}}},
  {"mark":{"type":"text","align":"right"},"encoding":{"x":{"value":101},"text":{"field":"n1","type":"quantitative","format":"d"}}},
  {"mark":{"type":"text","align":"right"},"encoding":{"x":{"value":119},"text":{"field":"e2","type":"quantitative","format":"d"}}},
  {"mark":{"type":"text","align":"right"},"encoding":{"x":{"value":137},"text":{"field":"n2","type":"quantitative","format":"d"}}},
  {"mark":{"type":"text","align":"right"},"encoding":{"x":{"value":167},"text":{"field":"w","type":"quantitative","format":".1%"}}},
  {"mark":{"type":"text","align":"right"},"encoding":{"x":{"value":239},"text":{"field":"ci"}}}
 ]},
 {"data":{"name":"A_RSPV_t"},"layer":[
  {"transform":[{"fold":["lo","est","hi"],"as":["key","val"]}],"mark":{"type":"trail","color":"#000"},"encoding":{"x":{"field":"val","type":"quantitative","title":null},"y":{"value":56.7},"size":{"condition":{"test":"datum.key === 'est'","value":7},"value":0}}},
  {"mark":{"type":"text","align":"right","fontWeight":"bold","fontSize":5.8},"encoding":{"x":{"value":239},"y":{"value":56.7},"text":{"field":"ci"}}}
 ]},
 {"transform":[{"aggregate":[{"op":"sum","field":"e1","as":"e1"},{"op":"sum","field":"n1","as":"n1"},{"op":"sum","field":"e2","as":"e2"},{"op":"sum","field":"n2","as":"n2"}]}],"layer":[
  {"mark":{"type":"text","align":"right","fontWeight":"bold","fontSize":5.8},"encoding":{"x":{"value":102},"y":{"value":56.7},"text":{"field":"n1","type":"quantitative","format":"d"}}},
  {"mark":{"type":"text","align":"right","fontWeight":"bold","fontSize":5.8},"encoding":{"x":{"value":145},"y":{"value":56.7},"text":{"field":"n2","type":"quantitative","format":"d"}}},
  {"mark":{"type":"text","align":"right"},"encoding":{"x":{"value":82},"y":{"value":66},"text":{"field":"e1","type":"quantitative","format":"d"}}},
  {"mark":{"type":"text","align":"right"},"encoding":{"x":{"value":131},"y":{"value":66},"text":{"field":"e2","type":"quantitative","format":"d"}}}
 ]},
 {"data":{"values":[{}]},"layer":[
  {"mark":{"type":"rule","color":"#555"},"encoding":{"x":{"value":3},"x2":{"value":388},"y":{"value":0}}},
  {"mark":{"type":"text","text":"RSPV recording","fontSize":15,"baseline":"alphabetic","color":"#333"},"encoding":{"x":{"value":5},"y":{"value":-21}}},
  {"mark":{"type":"text","align":"center","text":"CB3"},"encoding":{"x":{"value":85},"y":{"value":-10}}},
  {"mark":{"type":"text","align":"center","text":"CB2"},"encoding":{"x":{"value":122},"y":{"value":-10}}},
  {"mark":{"type":"text","align":"center","fontWeight":"bold","fontSize":5.8,"text":"Risk Ratio"},"encoding":{"x":{"value":210},"y":{"value":-10}}},
  {"mark":{"type":"text","align":"center","fontWeight":"bold","fontSize":5.8,"text":"Risk Ratio"},"encoding":{"x":{"value":318},"y":{"value":-10}}},
  {"mark":{"type":"text","fontWeight":"bold","fontSize":5.8,"text":"Study or Subgroup"},"encoding":{"x":{"value":4},"y":{"value":-3.2}}},
  {"mark":{"type":"text","align":"right","fontWeight":"bold","fontSize":5.8,"text":"Events"},"encoding":{"x":{"value":86.5},"y":{"value":-3.2}}},
  {"mark":{"type":"text","align":"right","fontWeight":"bold","fontSize":5.8,"text":"Total"},"encoding":{"x":{"value":102},"y":{"value":-3.2}}},
  {"mark":{"type":"text","align":"right","fontWeight":"bold","fontSize":5.8,"text":"Events"},"encoding":{"x":{"value":123},"y":{"value":-3.2}}},
  {"mark":{"type":"text","align":"right","fontWeight":"bold","fontSize":5.8,"text":"Total"},"encoding":{"x":{"value":138},"y":{"value":-3.2}}},
  {"mark":{"type":"text","align":"right","fontWeight":"bold","fontSize":5.8,"text":"Weight"},"encoding":{"x":{"value":167},"y":{"value":-3.2}}},
  {"mark":{"type":"text","align":"right","fontWeight":"bold","fontSize":5.8,"text":"M-H, Random, 95% CI"},"encoding":{"x":{"value":240},"y":{"value":-3.2}}},
  {"mark":{"type":"text","align":"center","fontWeight":"bold","fontSize":5.8,"text":"M-H, Random, 95% CI"},"encoding":{"x":{"value":315},"y":{"value":-3.2}}},
  {"mark":{"type":"text","fontWeight":"bold","fontSize":5.8,"text":"Total (95% CI)"},"encoding":{"x":{"value":4},"y":{"value":56.7}}},
  {"mark":{"type":"text","align":"right","fontWeight":"bold","fontSize":5.8,"text":"100.0%"},"encoding":{"x":{"value":167},"y":{"value":56.7}}},
  {"mark":{"type":"text","text":"Total events"},"encoding":{"x":{"value":4},"y":{"value":66}}},
  {"mark":{"type":"text","text":"Heterogeneity: Tau² = 0.06; Chi² = 14.11, df = 4 (P = 0.007); I² = 72%"},"encoding":{"x":{"value":4},"y":{"value":74.3}}},
  {"mark":{"type":"text","text":"Test for overall effect: Z = 2.34 (P = 0.02)"},"encoding":{"x":{"value":4},"y":{"value":83.7}}},
  {"mark":{"type":"text","align":"right","color":"#555","text":"CB3"},"encoding":{"x":{"value":310},"y":{"value":87}}},
  {"mark":{"type":"text","color":"#555","text":"CB2"},"encoding":{"x":{"value":315},"y":{"value":87}}}
 ]}
]},
{"width":390,"height":75,"data":{"name":"B_RSPV"},"layer":[
 {"data":{"values":[{}]},"mark":{"type":"rule","color":"#555"},"encoding":{"x":{"datum":1,"type":"quantitative","title":null}}},
 {"encoding":{"y":{"field":"study","type":"nominal","sort":null,"axis":null,"scale":{"type":"point","padding":0,"range":[5.3,44.3]}}},"layer":[
  {"mark":{"type":"rule","color":"#2e3f7f"},"encoding":{"x":{"field":"lo","type":"quantitative","title":null,"scale":{"type":"log","nice":false,"domain":[0.2,5],"range":[263,373]},"axis":{"values":[0.2,0.5,1,2,5],"format":"~g"}},"x2":{"field":"hi"}}},
  {"mark":{"type":"square","color":"#1f35c8","opacity":1},"encoding":{"x":{"field":"rr","type":"quantitative","title":null},"size":{"field":"w","type":"quantitative","scale":{"domain":[0,0.5],"range":[0,25]},"legend":null}}},
  {"mark":"text","encoding":{"x":{"value":5},"text":{"field":"study"}}},
  {"mark":{"type":"text","align":"right"},"encoding":{"x":{"value":88},"text":{"field":"e1","type":"quantitative","format":"d"}}},
  {"mark":{"type":"text","align":"right"},"encoding":{"x":{"value":102},"text":{"field":"n1","type":"quantitative","format":"d"}}},
  {"mark":{"type":"text","align":"right"},"encoding":{"x":{"value":123},"text":{"field":"e2","type":"quantitative","format":"d"}}},
  {"mark":{"type":"text","align":"right"},"encoding":{"x":{"value":138},"text":{"field":"n2","type":"quantitative","format":"d"}}},
  {"mark":{"type":"text","align":"right"},"encoding":{"x":{"value":166},"text":{"field":"w","type":"quantitative","format":".1%"}}},
  {"mark":{"type":"text","align":"right"},"encoding":{"x":{"value":246},"text":{"field":"ci"}}}
 ]},
 {"data":{"name":"B_RSPV_t"},"layer":[
  {"transform":[{"fold":["lo","est","hi"],"as":["key","val"]}],"mark":{"type":"trail","color":"#000"},"encoding":{"x":{"field":"val","type":"quantitative","title":null},"y":{"value":59.3},"size":{"condition":{"test":"datum.key === 'est'","value":7},"value":0}}},
  {"mark":{"type":"text","align":"right","fontWeight":"bold","fontSize":5.8},"encoding":{"x":{"value":246},"y":{"value":59.3},"text":{"field":"ci"}}}
 ]},
 {"transform":[{"aggregate":[{"op":"sum","field":"e1","as":"e1"},{"op":"sum","field":"n1","as":"n1"},{"op":"sum","field":"e2","as":"e2"},{"op":"sum","field":"n2","as":"n2"}]}],"layer":[
  {"mark":{"type":"text","align":"right","fontWeight":"bold","fontSize":5.8},"encoding":{"x":{"value":102},"y":{"value":59.3},"text":{"field":"n1","type":"quantitative","format":"d"}}},
  {"mark":{"type":"text","align":"right","fontWeight":"bold","fontSize":5.8},"encoding":{"x":{"value":146},"y":{"value":59.3},"text":{"field":"n2","type":"quantitative","format":"d"}}},
  {"mark":{"type":"text","align":"right"},"encoding":{"x":{"value":88},"y":{"value":66},"text":{"field":"e1","type":"quantitative","format":"d"}}},
  {"mark":{"type":"text","align":"right"},"encoding":{"x":{"value":136},"y":{"value":66},"text":{"field":"e2","type":"quantitative","format":"d"}}}
 ]},
 {"data":{"values":[{}]},"layer":[
  {"mark":{"type":"rule","color":"#555"},"encoding":{"x":{"value":5},"x2":{"value":390},"y":{"value":0}}},
  {"mark":{"type":"text","text":"RSPV recording","fontSize":15,"baseline":"alphabetic","color":"#333"},"encoding":{"x":{"value":6},"y":{"value":-16}}},
  {"mark":{"type":"text","align":"center","text":"CB4"},"encoding":{"x":{"value":93},"y":{"value":-9.5}}},
  {"mark":{"type":"text","align":"center","text":"CB2"},"encoding":{"x":{"value":129},"y":{"value":-9.5}}},
  {"mark":{"type":"text","align":"center","fontWeight":"bold","fontSize":5.8,"text":"Risk Ratio"},"encoding":{"x":{"value":213},"y":{"value":-9.5}}},
  {"mark":{"type":"text","align":"center","fontWeight":"bold","fontSize":5.8,"text":"Risk Ratio"},"encoding":{"x":{"value":320},"y":{"value":-9.5}}},
  {"mark":{"type":"text","fontWeight":"bold","fontSize":5.8,"text":"Study or Subgroup"},"encoding":{"x":{"value":5},"y":{"value":-3}}},
  {"mark":{"type":"text","align":"right","fontWeight":"bold","fontSize":5.8,"text":"Events"},"encoding":{"x":{"value":87},"y":{"value":-3}}},
  {"mark":{"type":"text","align":"right","fontWeight":"bold","fontSize":5.8,"text":"Total"},"encoding":{"x":{"value":102.5},"y":{"value":-3}}},
  {"mark":{"type":"text","align":"right","fontWeight":"bold","fontSize":5.8,"text":"Events"},"encoding":{"x":{"value":123},"y":{"value":-3}}},
  {"mark":{"type":"text","align":"right","fontWeight":"bold","fontSize":5.8,"text":"Total"},"encoding":{"x":{"value":138.5},"y":{"value":-3}}},
  {"mark":{"type":"text","align":"right","fontWeight":"bold","fontSize":5.8,"text":"Weight"},"encoding":{"x":{"value":166},"y":{"value":-3}}},
  {"mark":{"type":"text","align":"right","fontWeight":"bold","fontSize":5.8,"text":"M-H, Random, 95% CI"},"encoding":{"x":{"value":247},"y":{"value":-3}}},
  {"mark":{"type":"text","align":"center","fontWeight":"bold","fontSize":5.8,"text":"M-H, Random, 95% CI"},"encoding":{"x":{"value":318},"y":{"value":-3}}},
  {"mark":{"type":"text","fontWeight":"bold","fontSize":5.8,"text":"Total (95% CI)"},"encoding":{"x":{"value":5},"y":{"value":59.3}}},
  {"mark":{"type":"text","align":"right","fontWeight":"bold","fontSize":5.8,"text":"100.0%"},"encoding":{"x":{"value":167},"y":{"value":59.3}}},
  {"mark":{"type":"text","text":"Total events"},"encoding":{"x":{"value":5},"y":{"value":66}}},
  {"mark":{"type":"text","text":"Heterogeneity: Tau² = 0.01; Chi² = 8.98, df = 5 (P = 0.11); I² = 44%"},"encoding":{"x":{"value":5},"y":{"value":73.3}}},
  {"mark":{"type":"text","text":"Test for overall effect: Z = 4.98 (P < 0.00001)"},"encoding":{"x":{"value":5},"y":{"value":81.7}}},
  {"mark":{"type":"text","align":"right","color":"#555","text":"CB4"},"encoding":{"x":{"value":315},"y":{"value":88}}},
  {"mark":{"type":"text","color":"#555","text":"CB2"},"encoding":{"x":{"value":321},"y":{"value":88}}}
 ]}
]},
{"width":390,"height":75,"data":{"name":"A_RIPV"},"layer":[
 {"data":{"values":[{}]},"mark":{"type":"rule","color":"#555"},"encoding":{"x":{"datum":1,"type":"quantitative","title":null}}},
 {"encoding":{"y":{"field":"study","type":"nominal","sort":null,"axis":null,"scale":{"type":"point","padding":0,"range":[6,41.7]}}},"layer":[
  {"mark":{"type":"rule","color":"#2e3f7f"},"encoding":{"x":{"field":"lo","type":"quantitative","title":null,"scale":{"type":"log","nice":false,"domain":[0.01,100],"range":[246,379]},"axis":{"values":[0.01,0.1,1,10,100],"format":"~g"}},"x2":{"field":"hi"}}},
  {"mark":{"type":"square","color":"#1f35c8","opacity":1},"encoding":{"x":{"field":"rr","type":"quantitative","title":null},"size":{"field":"w","type":"quantitative","scale":{"domain":[0,0.5],"range":[0,25]},"legend":null}}},
  {"mark":"text","encoding":{"x":{"value":4},"text":{"field":"study"}}},
  {"mark":{"type":"text","align":"right"},"encoding":{"x":{"value":82},"text":{"field":"e1","type":"quantitative","format":"d"}}},
  {"mark":{"type":"text","align":"right"},"encoding":{"x":{"value":101},"text":{"field":"n1","type":"quantitative","format":"d"}}},
  {"mark":{"type":"text","align":"right"},"encoding":{"x":{"value":119},"text":{"field":"e2","type":"quantitative","format":"d"}}},
  {"mark":{"type":"text","align":"right"},"encoding":{"x":{"value":137},"text":{"field":"n2","type":"quantitative","format":"d"}}},
  {"mark":{"type":"text","align":"right"},"encoding":{"x":{"value":167},"text":{"field":"w","type":"quantitative","format":".1%"}}},
  {"mark":{"type":"text","align":"right"},"encoding":{"x":{"value":239},"text":{"field":"ci"}}}
 ]},
 {"data":{"name":"A_RIPV_t"},"layer":[
  {"transform":[{"fold":["lo","est","hi"],"as":["key","val"]}],"mark":{"type":"trail","color":"#000"},"encoding":{"x":{"field":"val","type":"quantitative","title":null},"y":{"value":58.3},"size":{"condition":{"test":"datum.key === 'est'","value":7},"value":0}}},
  {"mark":{"type":"text","align":"right","fontWeight":"bold","fontSize":5.8},"encoding":{"x":{"value":239},"y":{"value":58.3},"text":{"field":"ci"}}}
 ]},
 {"transform":[{"aggregate":[{"op":"sum","field":"e1","as":"e1"},{"op":"sum","field":"n1","as":"n1"},{"op":"sum","field":"e2","as":"e2"},{"op":"sum","field":"n2","as":"n2"}]}],"layer":[
  {"mark":{"type":"text","align":"right","fontWeight":"bold","fontSize":5.8},"encoding":{"x":{"value":102},"y":{"value":58.3},"text":{"field":"n1","type":"quantitative","format":"d"}}},
  {"mark":{"type":"text","align":"right","fontWeight":"bold","fontSize":5.8},"encoding":{"x":{"value":145},"y":{"value":58.3},"text":{"field":"n2","type":"quantitative","format":"d"}}},
  {"mark":{"type":"text","align":"right"},"encoding":{"x":{"value":82},"y":{"value":66.7},"text":{"field":"e1","type":"quantitative","format":"d"}}},
  {"mark":{"type":"text","align":"right"},"encoding":{"x":{"value":131},"y":{"value":66.7},"text":{"field":"e2","type":"quantitative","format":"d"}}}
 ]},
 {"data":{"values":[{}]},"layer":[
  {"mark":{"type":"rule","color":"#555"},"encoding":{"x":{"value":3},"x2":{"value":388},"y":{"value":0}}},
  {"mark":{"type":"text","text":"RIPV recording","fontSize":15,"baseline":"alphabetic","color":"#333"},"encoding":{"x":{"value":5},"y":{"value":-18}}},
  {"mark":{"type":"text","align":"center","text":"CB3"},"encoding":{"x":{"value":85},"y":{"value":-11.3}}},
  {"mark":{"type":"text","align":"center","text":"CB2"},"encoding":{"x":{"value":122},"y":{"value":-11.3}}},
  {"mark":{"type":"text","align":"center","fontWeight":"bold","fontSize":5.8,"text":"Risk Ratio"},"encoding":{"x":{"value":210},"y":{"value":-11.3}}},
  {"mark":{"type":"text","align":"center","fontWeight":"bold","fontSize":5.8,"text":"Risk Ratio"},"encoding":{"x":{"value":318},"y":{"value":-11.3}}},
  {"mark":{"type":"text","fontWeight":"bold","fontSize":5.8,"text":"Study or Subgroup"},"encoding":{"x":{"value":4},"y":{"value":-3.2}}},
  {"mark":{"type":"text","align":"right","fontWeight":"bold","fontSize":5.8,"text":"Events"},"encoding":{"x":{"value":86.5},"y":{"value":-3.2}}},
  {"mark":{"type":"text","align":"right","fontWeight":"bold","fontSize":5.8,"text":"Total"},"encoding":{"x":{"value":102},"y":{"value":-3.2}}},
  {"mark":{"type":"text","align":"right","fontWeight":"bold","fontSize":5.8,"text":"Events"},"encoding":{"x":{"value":123},"y":{"value":-3.2}}},
  {"mark":{"type":"text","align":"right","fontWeight":"bold","fontSize":5.8,"text":"Total"},"encoding":{"x":{"value":138},"y":{"value":-3.2}}},
  {"mark":{"type":"text","align":"right","fontWeight":"bold","fontSize":5.8,"text":"Weight"},"encoding":{"x":{"value":167},"y":{"value":-3.2}}},
  {"mark":{"type":"text","align":"right","fontWeight":"bold","fontSize":5.8,"text":"M-H, Random, 95% CI"},"encoding":{"x":{"value":240},"y":{"value":-3.2}}},
  {"mark":{"type":"text","align":"center","fontWeight":"bold","fontSize":5.8,"text":"M-H, Random, 95% CI"},"encoding":{"x":{"value":315},"y":{"value":-3.2}}},
  {"mark":{"type":"text","fontWeight":"bold","fontSize":5.8,"text":"Total (95% CI)"},"encoding":{"x":{"value":4},"y":{"value":58.3}}},
  {"mark":{"type":"text","align":"right","fontWeight":"bold","fontSize":5.8,"text":"100.0%"},"encoding":{"x":{"value":167},"y":{"value":58.3}}},
  {"mark":{"type":"text","text":"Total events"},"encoding":{"x":{"value":4},"y":{"value":66.7}}},
  {"mark":{"type":"text","text":"Heterogeneity: Tau² = 0.06; Chi² = 12.41, df = 4 (P = 0.01); I² = 68%"},"encoding":{"x":{"value":4},"y":{"value":74.3}}},
  {"mark":{"type":"text","text":"Test for overall effect: Z = 2.50 (P = 0.01)"},"encoding":{"x":{"value":4},"y":{"value":82.7}}},
  {"mark":{"type":"text","align":"right","color":"#555","text":"CB3"},"encoding":{"x":{"value":310},"y":{"value":89.3}}},
  {"mark":{"type":"text","color":"#555","text":"CB2"},"encoding":{"x":{"value":315},"y":{"value":89.3}}}
 ]}
]},
{"width":390,"height":78,"data":{"name":"B_RIPV"},"layer":[
 {"data":{"values":[{}]},"mark":{"type":"rule","color":"#555"},"encoding":{"x":{"datum":1,"type":"quantitative","title":null}}},
 {"encoding":{"y":{"field":"study","type":"nominal","sort":null,"axis":null,"scale":{"type":"point","padding":0,"range":[5,43.3]}}},"layer":[
  {"mark":{"type":"rule","color":"#2e3f7f"},"encoding":{"x":{"field":"lo","type":"quantitative","title":null,"scale":{"type":"log","nice":false,"domain":[0.1,10],"range":[257,377]},"axis":{"values":[0.1,0.2,0.5,1,2,5,10],"format":"~g"}},"x2":{"field":"hi"}}},
  {"mark":{"type":"square","color":"#1f35c8","opacity":1},"encoding":{"x":{"field":"rr","type":"quantitative","title":null},"size":{"field":"w","type":"quantitative","scale":{"domain":[0,0.5],"range":[0,25]},"legend":null}}},
  {"mark":"text","encoding":{"x":{"value":5},"text":{"field":"study"}}},
  {"mark":{"type":"text","align":"right"},"encoding":{"x":{"value":88},"text":{"field":"e1","type":"quantitative","format":"d"}}},
  {"mark":{"type":"text","align":"right"},"encoding":{"x":{"value":102},"text":{"field":"n1","type":"quantitative","format":"d"}}},
  {"mark":{"type":"text","align":"right"},"encoding":{"x":{"value":123},"text":{"field":"e2","type":"quantitative","format":"d"}}},
  {"mark":{"type":"text","align":"right"},"encoding":{"x":{"value":138},"text":{"field":"n2","type":"quantitative","format":"d"}}},
  {"mark":{"type":"text","align":"right"},"encoding":{"x":{"value":166},"text":{"field":"w","type":"quantitative","format":".1%"}}},
  {"mark":{"type":"text","align":"right"},"encoding":{"x":{"value":246},"text":{"field":"ci"}}}
 ]},
 {"data":{"name":"B_RIPV_t"},"layer":[
  {"transform":[{"fold":["lo","est","hi"],"as":["key","val"]}],"mark":{"type":"trail","color":"#000"},"encoding":{"x":{"field":"val","type":"quantitative","title":null},"y":{"value":59},"size":{"condition":{"test":"datum.key === 'est'","value":7},"value":0}}},
  {"mark":{"type":"text","align":"right","fontWeight":"bold","fontSize":5.8},"encoding":{"x":{"value":246},"y":{"value":59},"text":{"field":"ci"}}}
 ]},
 {"transform":[{"aggregate":[{"op":"sum","field":"e1","as":"e1"},{"op":"sum","field":"n1","as":"n1"},{"op":"sum","field":"e2","as":"e2"},{"op":"sum","field":"n2","as":"n2"}]}],"layer":[
  {"mark":{"type":"text","align":"right","fontWeight":"bold","fontSize":5.8},"encoding":{"x":{"value":102},"y":{"value":59},"text":{"field":"n1","type":"quantitative","format":"d"}}},
  {"mark":{"type":"text","align":"right","fontWeight":"bold","fontSize":5.8},"encoding":{"x":{"value":146},"y":{"value":59},"text":{"field":"n2","type":"quantitative","format":"d"}}},
  {"mark":{"type":"text","align":"right"},"encoding":{"x":{"value":88},"y":{"value":66.7},"text":{"field":"e1","type":"quantitative","format":"d"}}},
  {"mark":{"type":"text","align":"right"},"encoding":{"x":{"value":136},"y":{"value":66.7},"text":{"field":"e2","type":"quantitative","format":"d"}}}
 ]},
 {"data":{"values":[{}]},"layer":[
  {"mark":{"type":"rule","color":"#555"},"encoding":{"x":{"value":5},"x2":{"value":390},"y":{"value":-1.5}}},
  {"mark":{"type":"text","text":"RIPV recording","fontSize":15,"baseline":"alphabetic","color":"#333"},"encoding":{"x":{"value":6},"y":{"value":-18}}},
  {"mark":{"type":"text","align":"center","text":"CB4"},"encoding":{"x":{"value":93},"y":{"value":-11.3}}},
  {"mark":{"type":"text","align":"center","text":"CB2"},"encoding":{"x":{"value":129},"y":{"value":-11.3}}},
  {"mark":{"type":"text","align":"center","fontWeight":"bold","fontSize":5.8,"text":"Risk Ratio"},"encoding":{"x":{"value":213},"y":{"value":-11.3}}},
  {"mark":{"type":"text","align":"center","fontWeight":"bold","fontSize":5.8,"text":"Risk Ratio"},"encoding":{"x":{"value":320},"y":{"value":-11.3}}},
  {"mark":{"type":"text","fontWeight":"bold","fontSize":5.8,"text":"Study or Subgroup"},"encoding":{"x":{"value":5},"y":{"value":-4.5}}},
  {"mark":{"type":"text","align":"right","fontWeight":"bold","fontSize":5.8,"text":"Events"},"encoding":{"x":{"value":87},"y":{"value":-4.5}}},
  {"mark":{"type":"text","align":"right","fontWeight":"bold","fontSize":5.8,"text":"Total"},"encoding":{"x":{"value":102.5},"y":{"value":-4.5}}},
  {"mark":{"type":"text","align":"right","fontWeight":"bold","fontSize":5.8,"text":"Events"},"encoding":{"x":{"value":123},"y":{"value":-4.5}}},
  {"mark":{"type":"text","align":"right","fontWeight":"bold","fontSize":5.8,"text":"Total"},"encoding":{"x":{"value":138.5},"y":{"value":-4.5}}},
  {"mark":{"type":"text","align":"right","fontWeight":"bold","fontSize":5.8,"text":"Weight"},"encoding":{"x":{"value":166},"y":{"value":-4.5}}},
  {"mark":{"type":"text","align":"right","fontWeight":"bold","fontSize":5.8,"text":"M-H, Random, 95% CI"},"encoding":{"x":{"value":247},"y":{"value":-4.5}}},
  {"mark":{"type":"text","align":"center","fontWeight":"bold","fontSize":5.8,"text":"M-H, Random, 95% CI"},"encoding":{"x":{"value":318},"y":{"value":-4.5}}},
  {"mark":{"type":"text","fontWeight":"bold","fontSize":5.8,"text":"Total (95% CI)"},"encoding":{"x":{"value":5},"y":{"value":59}}},
  {"mark":{"type":"text","align":"right","fontWeight":"bold","fontSize":5.8,"text":"100.0%"},"encoding":{"x":{"value":167},"y":{"value":59}}},
  {"mark":{"type":"text","text":"Total events"},"encoding":{"x":{"value":5},"y":{"value":66.7}}},
  {"mark":{"type":"text","text":"Heterogeneity: Tau² = 0.05; Chi² = 16.09, df = 5 (P = 0.007); I² = 69%"},"encoding":{"x":{"value":5},"y":{"value":74.3}}},
  {"mark":{"type":"text","text":"Test for overall effect: Z = 2.79 (P = 0.005)"},"encoding":{"x":{"value":5},"y":{"value":82.3}}},
  {"mark":{"type":"text","align":"right","color":"#555","text":"CB4"},"encoding":{"x":{"value":315},"y":{"value":89}}},
  {"mark":{"type":"text","color":"#555","text":"CB2"},"encoding":{"x":{"value":321},"y":{"value":89}}}
 ]}
]},
{"width":390,"height":82,"data":{"name":"A_PVI"},"layer":[
 {"data":{"values":[{}]},"mark":{"type":"rule","color":"#555"},"encoding":{"x":{"datum":1,"type":"quantitative","title":null}}},
 {"encoding":{"y":{"field":"study","type":"nominal","sort":null,"axis":null,"scale":{"type":"point","padding":0,"range":[7,49.3]}}},"layer":[
  {"mark":{"type":"rule","color":"#2e3f7f"},"encoding":{"x":{"field":"lo","type":"quantitative","title":null,"scale":{"type":"log","nice":false,"domain":[0.01,100],"range":[246,379]},"axis":{"values":[0.01,0.1,1,10,100],"format":"~g"}},"x2":{"field":"hi"}}},
  {"mark":{"type":"square","color":"#1f35c8","opacity":1},"encoding":{"x":{"field":"rr","type":"quantitative","title":null},"size":{"field":"w","type":"quantitative","scale":{"domain":[0,0.5],"range":[0,25]},"legend":null}}},
  {"mark":"text","encoding":{"x":{"value":4},"text":{"field":"study"}}},
  {"mark":{"type":"text","align":"right"},"encoding":{"x":{"value":82},"text":{"field":"e1","type":"quantitative","format":"d"}}},
  {"mark":{"type":"text","align":"right"},"encoding":{"x":{"value":101},"text":{"field":"n1","type":"quantitative","format":"d"}}},
  {"mark":{"type":"text","align":"right"},"encoding":{"x":{"value":119},"text":{"field":"e2","type":"quantitative","format":"d"}}},
  {"mark":{"type":"text","align":"right"},"encoding":{"x":{"value":137},"text":{"field":"n2","type":"quantitative","format":"d"}}},
  {"mark":{"type":"text","align":"right"},"encoding":{"x":{"value":167},"text":{"field":"w","type":"quantitative","format":".1%"}}},
  {"mark":{"type":"text","align":"right"},"encoding":{"x":{"value":239},"text":{"field":"ci"}}}
 ]},
 {"data":{"name":"A_PVI_t"},"layer":[
  {"transform":[{"fold":["lo","est","hi"],"as":["key","val"]}],"mark":{"type":"trail","color":"#000"},"encoding":{"x":{"field":"val","type":"quantitative","title":null},"y":{"value":66},"size":{"condition":{"test":"datum.key === 'est'","value":7},"value":0}}},
  {"mark":{"type":"text","align":"right","fontWeight":"bold","fontSize":5.8},"encoding":{"x":{"value":239},"y":{"value":66},"text":{"field":"ci"}}}
 ]},
 {"transform":[{"aggregate":[{"op":"sum","field":"e1","as":"e1"},{"op":"sum","field":"n1","as":"n1"},{"op":"sum","field":"e2","as":"e2"},{"op":"sum","field":"n2","as":"n2"}]}],"layer":[
  {"mark":{"type":"text","align":"right","fontWeight":"bold","fontSize":5.8},"encoding":{"x":{"value":102},"y":{"value":66},"text":{"field":"n1","type":"quantitative","format":"d"}}},
  {"mark":{"type":"text","align":"right","fontWeight":"bold","fontSize":5.8},"encoding":{"x":{"value":145},"y":{"value":66},"text":{"field":"n2","type":"quantitative","format":"d"}}},
  {"mark":{"type":"text","align":"right"},"encoding":{"x":{"value":82},"y":{"value":74.3},"text":{"field":"e1","type":"quantitative","format":"d"}}},
  {"mark":{"type":"text","align":"right"},"encoding":{"x":{"value":131},"y":{"value":74.3},"text":{"field":"e2","type":"quantitative","format":"d"}}}
 ]},
 {"data":{"values":[{}]},"layer":[
  {"mark":{"type":"rule","color":"#555"},"encoding":{"x":{"value":3},"x2":{"value":388},"y":{"value":0}}},
  {"mark":{"type":"text","text":"PVI recording","fontSize":15,"baseline":"alphabetic","color":"#333"},"encoding":{"x":{"value":5},"y":{"value":-20}}},
  {"mark":{"type":"text","align":"center","text":"CB3"},"encoding":{"x":{"value":85},"y":{"value":-10}}},
  {"mark":{"type":"text","align":"center","text":"CB2"},"encoding":{"x":{"value":122},"y":{"value":-10}}},
  {"mark":{"type":"text","align":"center","fontWeight":"bold","fontSize":5.8,"text":"Risk Ratio"},"encoding":{"x":{"value":210},"y":{"value":-10}}},
  {"mark":{"type":"text","align":"center","fontWeight":"bold","fontSize":5.8,"text":"Risk Ratio"},"encoding":{"x":{"value":318},"y":{"value":-10}}},
  {"mark":{"type":"text","fontWeight":"bold","fontSize":5.8,"text":"Study or Subgroup"},"encoding":{"x":{"value":4},"y":{"value":-3.2}}},
  {"mark":{"type":"text","align":"right","fontWeight":"bold","fontSize":5.8,"text":"Events"},"encoding":{"x":{"value":86.5},"y":{"value":-3.2}}},
  {"mark":{"type":"text","align":"right","fontWeight":"bold","fontSize":5.8,"text":"Total"},"encoding":{"x":{"value":102},"y":{"value":-3.2}}},
  {"mark":{"type":"text","align":"right","fontWeight":"bold","fontSize":5.8,"text":"Events"},"encoding":{"x":{"value":123},"y":{"value":-3.2}}},
  {"mark":{"type":"text","align":"right","fontWeight":"bold","fontSize":5.8,"text":"Total"},"encoding":{"x":{"value":138},"y":{"value":-3.2}}},
  {"mark":{"type":"text","align":"right","fontWeight":"bold","fontSize":5.8,"text":"Weight"},"encoding":{"x":{"value":167},"y":{"value":-3.2}}},
  {"mark":{"type":"text","align":"right","fontWeight":"bold","fontSize":5.8,"text":"M-H, Random, 95% CI"},"encoding":{"x":{"value":240},"y":{"value":-3.2}}},
  {"mark":{"type":"text","align":"center","fontWeight":"bold","fontSize":5.8,"text":"M-H, Random, 95% CI"},"encoding":{"x":{"value":315},"y":{"value":-3.2}}},
  {"mark":{"type":"text","fontWeight":"bold","fontSize":5.8,"text":"Total (95% CI)"},"encoding":{"x":{"value":4},"y":{"value":66}}},
  {"mark":{"type":"text","align":"right","fontWeight":"bold","fontSize":5.8,"text":"100.0%"},"encoding":{"x":{"value":167},"y":{"value":66}}},
  {"mark":{"type":"text","text":"Total events"},"encoding":{"x":{"value":4},"y":{"value":74.3}}},
  {"mark":{"type":"text","text":"Heterogeneity: Tau² = 0.05; Chi² = 48.40, df = 5 (P < 0.00001); I² = 90%"},"encoding":{"x":{"value":4},"y":{"value":82.7}}},
  {"mark":{"type":"text","text":"Test for overall effect: Z = 2.32 (P = 0.02)"},"encoding":{"x":{"value":4},"y":{"value":91}}},
  {"mark":{"type":"text","align":"right","color":"#555","text":"CB3"},"encoding":{"x":{"value":310},"y":{"value":94.3}}},
  {"mark":{"type":"text","color":"#555","text":"CB2"},"encoding":{"x":{"value":315},"y":{"value":94.3}}}
 ]}
]},
{"width":390,"height":72,"data":{"name":"B_PVI"},"layer":[
 {"data":{"values":[{}]},"mark":{"type":"rule","color":"#555"},"encoding":{"x":{"datum":1,"type":"quantitative","title":null}}},
 {"encoding":{"y":{"field":"study","type":"nominal","sort":null,"axis":null,"scale":{"type":"point","padding":0,"range":[4.3,35]}}},"layer":[
  {"mark":{"type":"rule","color":"#2e3f7f"},"encoding":{"x":{"field":"lo","type":"quantitative","title":null,"scale":{"type":"log","nice":false,"domain":[0.2,5],"range":[257,380]},"axis":{"values":[0.2,0.5,1,2,5],"format":"~g"}},"x2":{"field":"hi"}}},
  {"mark":{"type":"square","color":"#1f35c8","opacity":1},"encoding":{"x":{"field":"rr","type":"quantitative","title":null},"size":{"field":"w","type":"quantitative","scale":{"domain":[0,0.5],"range":[0,25]},"legend":null}}},
  {"mark":"text","encoding":{"x":{"value":5},"text":{"field":"study"}}},
  {"mark":{"type":"text","align":"right"},"encoding":{"x":{"value":88},"text":{"field":"e1","type":"quantitative","format":"d"}}},
  {"mark":{"type":"text","align":"right"},"encoding":{"x":{"value":102},"text":{"field":"n1","type":"quantitative","format":"d"}}},
  {"mark":{"type":"text","align":"right"},"encoding":{"x":{"value":123},"text":{"field":"e2","type":"quantitative","format":"d"}}},
  {"mark":{"type":"text","align":"right"},"encoding":{"x":{"value":138},"text":{"field":"n2","type":"quantitative","format":"d"}}},
  {"mark":{"type":"text","align":"right"},"encoding":{"x":{"value":166},"text":{"field":"w","type":"quantitative","format":".1%"}}},
  {"mark":{"type":"text","align":"right"},"encoding":{"x":{"value":246},"text":{"field":"ci"}}}
 ]},
 {"data":{"name":"B_PVI_t"},"layer":[
  {"transform":[{"fold":["lo","est","hi"],"as":["key","val"]}],"mark":{"type":"trail","color":"#000"},"encoding":{"x":{"field":"val","type":"quantitative","title":null},"y":{"value":51},"size":{"condition":{"test":"datum.key === 'est'","value":7},"value":0}}},
  {"mark":{"type":"text","align":"right","fontWeight":"bold","fontSize":5.8},"encoding":{"x":{"value":246},"y":{"value":51},"text":{"field":"ci"}}}
 ]},
 {"transform":[{"aggregate":[{"op":"sum","field":"e1","as":"e1"},{"op":"sum","field":"n1","as":"n1"},{"op":"sum","field":"e2","as":"e2"},{"op":"sum","field":"n2","as":"n2"}]}],"layer":[
  {"mark":{"type":"text","align":"right","fontWeight":"bold","fontSize":5.8},"encoding":{"x":{"value":102},"y":{"value":51},"text":{"field":"n1","type":"quantitative","format":"d"}}},
  {"mark":{"type":"text","align":"right","fontWeight":"bold","fontSize":5.8},"encoding":{"x":{"value":146},"y":{"value":51},"text":{"field":"n2","type":"quantitative","format":"d"}}},
  {"mark":{"type":"text","align":"right"},"encoding":{"x":{"value":88},"y":{"value":59.3},"text":{"field":"e1","type":"quantitative","format":"d"}}},
  {"mark":{"type":"text","align":"right"},"encoding":{"x":{"value":136},"y":{"value":59.3},"text":{"field":"e2","type":"quantitative","format":"d"}}}
 ]},
 {"data":{"values":[{}]},"layer":[
  {"mark":{"type":"rule","color":"#555"},"encoding":{"x":{"value":5},"x2":{"value":390},"y":{"value":0}}},
  {"mark":{"type":"text","text":"PVI recording","fontSize":15,"baseline":"alphabetic","color":"#333"},"encoding":{"x":{"value":6},"y":{"value":-15.5}}},
  {"mark":{"type":"text","align":"center","text":"CB4"},"encoding":{"x":{"value":93},"y":{"value":-9.1}}},
  {"mark":{"type":"text","align":"center","text":"CB2"},"encoding":{"x":{"value":129},"y":{"value":-9.1}}},
  {"mark":{"type":"text","align":"center","fontWeight":"bold","fontSize":5.8,"text":"Risk Ratio"},"encoding":{"x":{"value":213},"y":{"value":-9.1}}},
  {"mark":{"type":"text","align":"center","fontWeight":"bold","fontSize":5.8,"text":"Risk Ratio"},"encoding":{"x":{"value":320},"y":{"value":-9.1}}},
  {"mark":{"type":"text","fontWeight":"bold","fontSize":5.8,"text":"Study or Subgroup"},"encoding":{"x":{"value":5},"y":{"value":-3}}},
  {"mark":{"type":"text","align":"right","fontWeight":"bold","fontSize":5.8,"text":"Events"},"encoding":{"x":{"value":87},"y":{"value":-3}}},
  {"mark":{"type":"text","align":"right","fontWeight":"bold","fontSize":5.8,"text":"Total"},"encoding":{"x":{"value":102.5},"y":{"value":-3}}},
  {"mark":{"type":"text","align":"right","fontWeight":"bold","fontSize":5.8,"text":"Events"},"encoding":{"x":{"value":123},"y":{"value":-3}}},
  {"mark":{"type":"text","align":"right","fontWeight":"bold","fontSize":5.8,"text":"Total"},"encoding":{"x":{"value":138.5},"y":{"value":-3}}},
  {"mark":{"type":"text","align":"right","fontWeight":"bold","fontSize":5.8,"text":"Weight"},"encoding":{"x":{"value":166},"y":{"value":-3}}},
  {"mark":{"type":"text","align":"right","fontWeight":"bold","fontSize":5.8,"text":"M-H, Random, 95% CI"},"encoding":{"x":{"value":247},"y":{"value":-3}}},
  {"mark":{"type":"text","align":"center","fontWeight":"bold","fontSize":5.8,"text":"M-H, Random, 95% CI"},"encoding":{"x":{"value":318},"y":{"value":-3}}},
  {"mark":{"type":"text","fontWeight":"bold","fontSize":5.8,"text":"Total (95% CI)"},"encoding":{"x":{"value":5},"y":{"value":51}}},
  {"mark":{"type":"text","align":"right","fontWeight":"bold","fontSize":5.8,"text":"100.0%"},"encoding":{"x":{"value":167},"y":{"value":51}}},
  {"mark":{"type":"text","text":"Total events"},"encoding":{"x":{"value":5},"y":{"value":59.3}}},
  {"mark":{"type":"text","text":"Heterogeneity: Tau² = 0.04; Chi² = 39.46, df = 4 (P < 0.00001); I² = 90%"},"encoding":{"x":{"value":5},"y":{"value":67.7}}},
  {"mark":{"type":"text","text":"Test for overall effect: Z = 3.34 (P = 0.0008)"},"encoding":{"x":{"value":5},"y":{"value":76}}},
  {"mark":{"type":"text","align":"right","color":"#555","text":"CB4"},"encoding":{"x":{"value":315},"y":{"value":81}}},
  {"mark":{"type":"text","color":"#555","text":"CB2"},"encoding":{"x":{"value":321},"y":{"value":81}}}
 ]}
]}
]
}
